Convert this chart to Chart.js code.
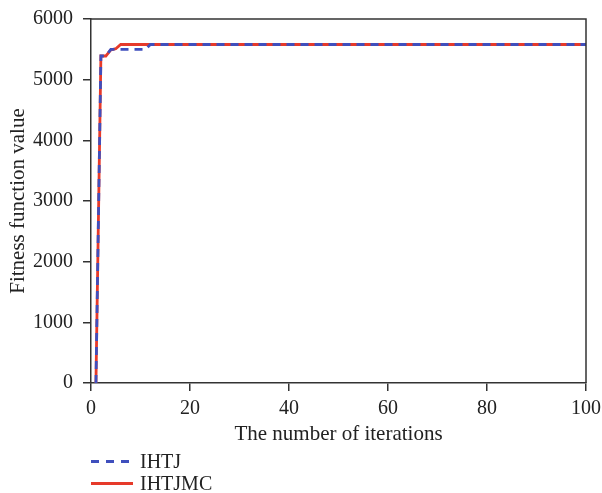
<!DOCTYPE html>
<html>
<head>
<meta charset="utf-8">
<script src="https://cdn.jsdelivr.net/npm/chart.js@4.4.1/dist/chart.umd.min.js"></script>
<style>
  html, body { margin: 0; padding: 0; background: #fff; }
  #wrap { position: relative; width: 602px; height: 493px; }
  #legend { position: absolute; left: 91px; top: 450px; font-family: "Liberation Serif", "DejaVu Serif", serif; font-size: 20px; color: #222; line-height: 22px; }
  .item { display: flex; align-items: center; height: 22px; }
  .swatch { width: 42px; height: 0; margin-right: 7px; }
</style>
</head>
<body>
<div id="wrap">
  <canvas id="c"></canvas>
  <div id="legend"></div>
</div>
<script>
// Convergence of the fitness function for the two algorithms
const seriesNames = ["IHTJ", "IHTJMC"];
const ihtjIter = [1, 2, 3, 4, 11, 12, 100];
const ihtjFit  = [0, 5390, 5390, 5500, 5500, 5580, 5580];
const ihtjmcIter = [1, 2, 3, 4, 5, 6, 100];
const ihtjmcFit  = [0, 5390, 5390, 5490, 5510, 5580, 5580];
const xTicks = [0, 20, 40, 60, 80, 100];
const yTicks = [0, 1000, 2000, 3000, 4000, 5000, 6000];

const blue = "#3f4fbd";
const red = "#e63a2a";
const axisColor = "#333";
const textColor = "#222";
const serif = "'Liberation Serif', 'DejaVu Serif', serif";

const toPoints = (xs, ys) => xs.map((x, i) => ({ x: x, y: ys[i] }));

// Closes the frame: top and right borders of the plot area
const frame = {
  id: "frame",
  afterDatasetsDraw(chart) {
    const { ctx, chartArea: a } = chart;
    ctx.save();
    ctx.strokeStyle = axisColor;
    ctx.lineWidth = 1.5;
    ctx.beginPath();
    ctx.moveTo(a.left, a.top);
    ctx.lineTo(a.right, a.top);
    ctx.lineTo(a.right, a.bottom);
    ctx.stroke();
    ctx.restore();
  }
};

const gridOpts = { display: true, drawOnChartArea: false, drawTicks: true, tickLength: 8, color: axisColor, lineWidth: 1.5 };
const borderOpts = { display: true, color: axisColor, width: 1.5 };
const tickFont = { family: serif, size: 20 };
const titleFont = { family: serif, size: 21 };

new Chart(document.getElementById("c"), {
  type: "line",
  data: {
    datasets: [
      // the dashed series is drawn over the solid one (lower order = on top)
      { label: seriesNames[0], order: 0, data: toPoints(ihtjIter, ihtjFit), borderColor: blue, borderWidth: 2.8, borderDash: [8, 6], pointRadius: 0, tension: 0, fill: false },
      { label: seriesNames[1], order: 1, data: toPoints(ihtjmcIter, ihtjmcFit), borderColor: red, borderWidth: 2.8, pointRadius: 0, tension: 0, fill: false }
    ]
  },
  options: {
    responsive: true,
    maintainAspectRatio: false,
    animation: false,
    layout: { padding: { left: 6, top: 19, right: 16, bottom: 46 } },
    plugins: { legend: { display: false }, tooltip: { enabled: false } },
    scales: {
      x: {
        type: "linear",
        min: xTicks[0], max: xTicks[xTicks.length - 1],
        afterBuildTicks: s => { s.ticks = xTicks.map(v => ({ value: v })); },
        afterFit: s => { s.height = 64; s.paddingLeft = 0; s.paddingRight = 0; },
        grid: gridOpts,
        border: borderOpts,
        ticks: { color: textColor, font: tickFont, padding: 6, maxRotation: 0, callback: v => String(v) },
        title: { display: true, text: "The number of iterations", color: textColor, font: titleFont, padding: 0 }
      },
      y: {
        type: "linear",
        min: yTicks[0], max: yTicks[yTicks.length - 1],
        afterBuildTicks: s => { s.ticks = yTicks.map(v => ({ value: v })); },
        afterFit: s => { s.width = 85; s.paddingTop = 0; s.paddingBottom = 0; },
        grid: gridOpts,
        border: borderOpts,
        ticks: { color: textColor, font: tickFont, padding: 10, callback: v => String(v) },
        title: { display: true, text: "Fitness function value", color: textColor, font: titleFont, padding: 0 }
      }
    }
  },
  plugins: [frame]
});

// Legend below the plot, one series per row
const legend = document.getElementById("legend");
[[seriesNames[0], blue, "dashed"], [seriesNames[1], red, "solid"]].forEach(([name, color, style]) => {
  const row = document.createElement("div");
  row.className = "item";
  const sw = document.createElement("span");
  sw.className = "swatch";
  if (style === "dashed") {
    sw.style.height = "3px";
    sw.style.background = `repeating-linear-gradient(90deg, ${color} 0 8px, transparent 8px 15px)`;
  } else {
    sw.style.borderTop = `3px solid ${color}`;
  }
  const tx = document.createElement("span");
  tx.textContent = name;
  row.appendChild(sw);
  row.appendChild(tx);
  legend.appendChild(row);
});
</script>
</body>
</html>
